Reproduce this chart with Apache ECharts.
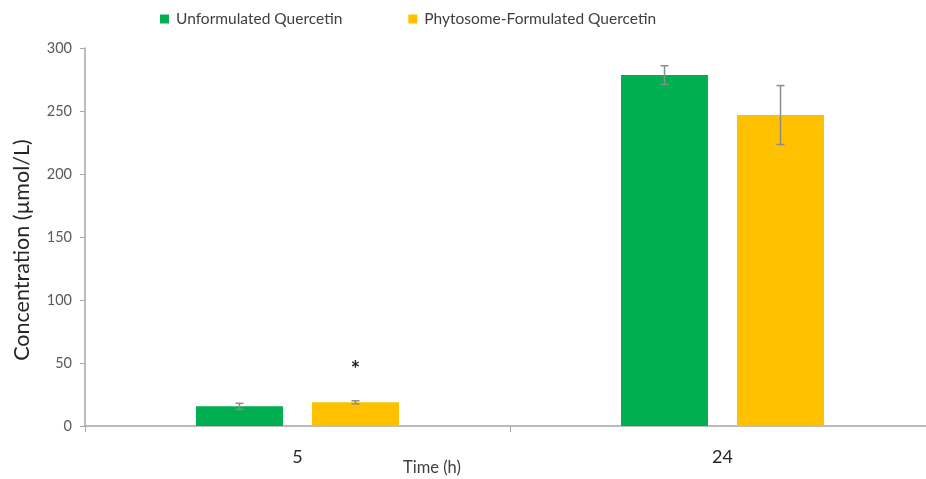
<!DOCTYPE html>
<html>
<head>
<meta charset="utf-8">
<script src="https://cdn.jsdelivr.net/npm/echarts@6/dist/echarts.min.js"></script>
<style>html,body{margin:0;padding:0;background:#fff}#c{width:926px;height:479px}</style>
</head>
<body>
<div id="c"></div>
<script>
var categories = ['5', '24'];
var seriesNames = ['Unformulated Quercetin', 'Phytosome-Formulated Quercetin'];
var unformulated = [15.6, 278.5];
var unformulatedErr = [2.4, 7.4];
var phytosome = [18.8, 246.8];
var phytosomeErr = [1.2, 23.4];
var significance = ['*', ''];
var yTicks = [0, 50, 100, 150, 200, 250, 300];

var FONT = 'Lato';
var BAR_W = 87, GAP = 29;
var OFFSET = (BAR_W + GAP) / 2;

function errSeries(vals, errs, dir) {
  return {
    type: 'custom',
    z: 5,
    silent: true,
    data: vals.map(function (v, i) { return [i, v - errs[i], v + errs[i]]; }),
    renderItem: function (params, api) {
      var lo = api.coord([api.value(0), api.value(1)]);
      var hi = api.coord([api.value(0), api.value(2)]);
      var x = lo[0] + dir * OFFSET;
      var cap = 4;
      var st = { stroke: '#8c8c8c', lineWidth: 1.5 };
      return {
        type: 'group',
        children: [
          { type: 'line', shape: { x1: x, y1: lo[1], x2: x, y2: hi[1] }, style: st },
          { type: 'line', shape: { x1: x - cap, y1: lo[1], x2: x + cap, y2: lo[1] }, style: st },
          { type: 'line', shape: { x1: x - cap, y1: hi[1], x2: x + cap, y2: hi[1] }, style: st }
        ]
      };
    }
  };
}

var chart = echarts.init(document.getElementById('c'), null, { renderer: 'canvas' });
chart.setOption({
  animation: false,
  textStyle: { fontFamily: FONT },
  legend: {
    top: 6,
    left: 155,
    itemWidth: 9,
    itemHeight: 9,
    itemGap: 66,
    icon: 'rect',
    textStyle: { fontFamily: FONT, fontSize: 15.5, color: '#404040', padding: [0, 0, 0, 2] },
    data: seriesNames
  },
  grid: { left: 85, top: 48, bottom: 53, width: 850, outerBoundsMode: 'none', containLabel: false },
  xAxis: {
    type: 'category',
    data: categories,
    name: 'Time (h)',
    nameLocation: 'middle',
    nameGap: 33,
    nameMoveOverlap: false,
    nameTextStyle: { fontFamily: FONT, fontSize: 16.5, color: '#404040', padding: [0, 156, 0, 0] },
    axisLine: { lineStyle: { color: '#a6a6a6', width: 1.5 } },
    axisTick: { show: true, length: 6, lineStyle: { color: '#a6a6a6' } },
    axisLabel: { fontFamily: FONT, fontSize: 18, color: '#262626', margin: 22 }
  },
  yAxis: {
    type: 'value',
    min: 0,
    max: 300,
    interval: 50,
    name: 'Concentration (µmol/L)',
    nameLocation: 'middle',
    nameGap: 52,
    nameMoveOverlap: false,
    nameTextStyle: { fontFamily: FONT, fontSize: 21.5, color: '#262626', padding: [0, 26, 0, 0] },
    axisLine: { show: true, lineStyle: { color: '#a6a6a6', width: 1.5 } },
    axisTick: { show: true, length: 5, lineStyle: { color: '#a6a6a6' } },
    splitLine: { show: false },
    axisLabel: { fontFamily: FONT, fontSize: 14.5, color: '#595959', margin: 13,
      formatter: function (v) { return yTicks.indexOf(v) >= 0 ? String(v) : ''; } }
  },
  series: [
    {
      name: seriesNames[0],
      type: 'bar',
      barWidth: BAR_W,
      barGap: (GAP / BAR_W * 100).toFixed(1) + '%',
      itemStyle: { color: '#00b050' },
      data: unformulated
    },
    {
      name: seriesNames[1],
      type: 'bar',
      barWidth: BAR_W,
      itemStyle: { color: '#ffc000' },
      data: phytosome.map(function (v, i) {
        return significance[i] ? {
          value: v,
          label: { show: true, position: 'top', formatter: significance[i], distance: 21,
            fontSize: 22, fontWeight: 'bold', color: '#262626', fontFamily: FONT }
        } : v;
      })
    },
    errSeries(unformulated, unformulatedErr, -1),
    errSeries(phytosome, phytosomeErr, 1)
  ]
});
</script>
</body>
</html>
